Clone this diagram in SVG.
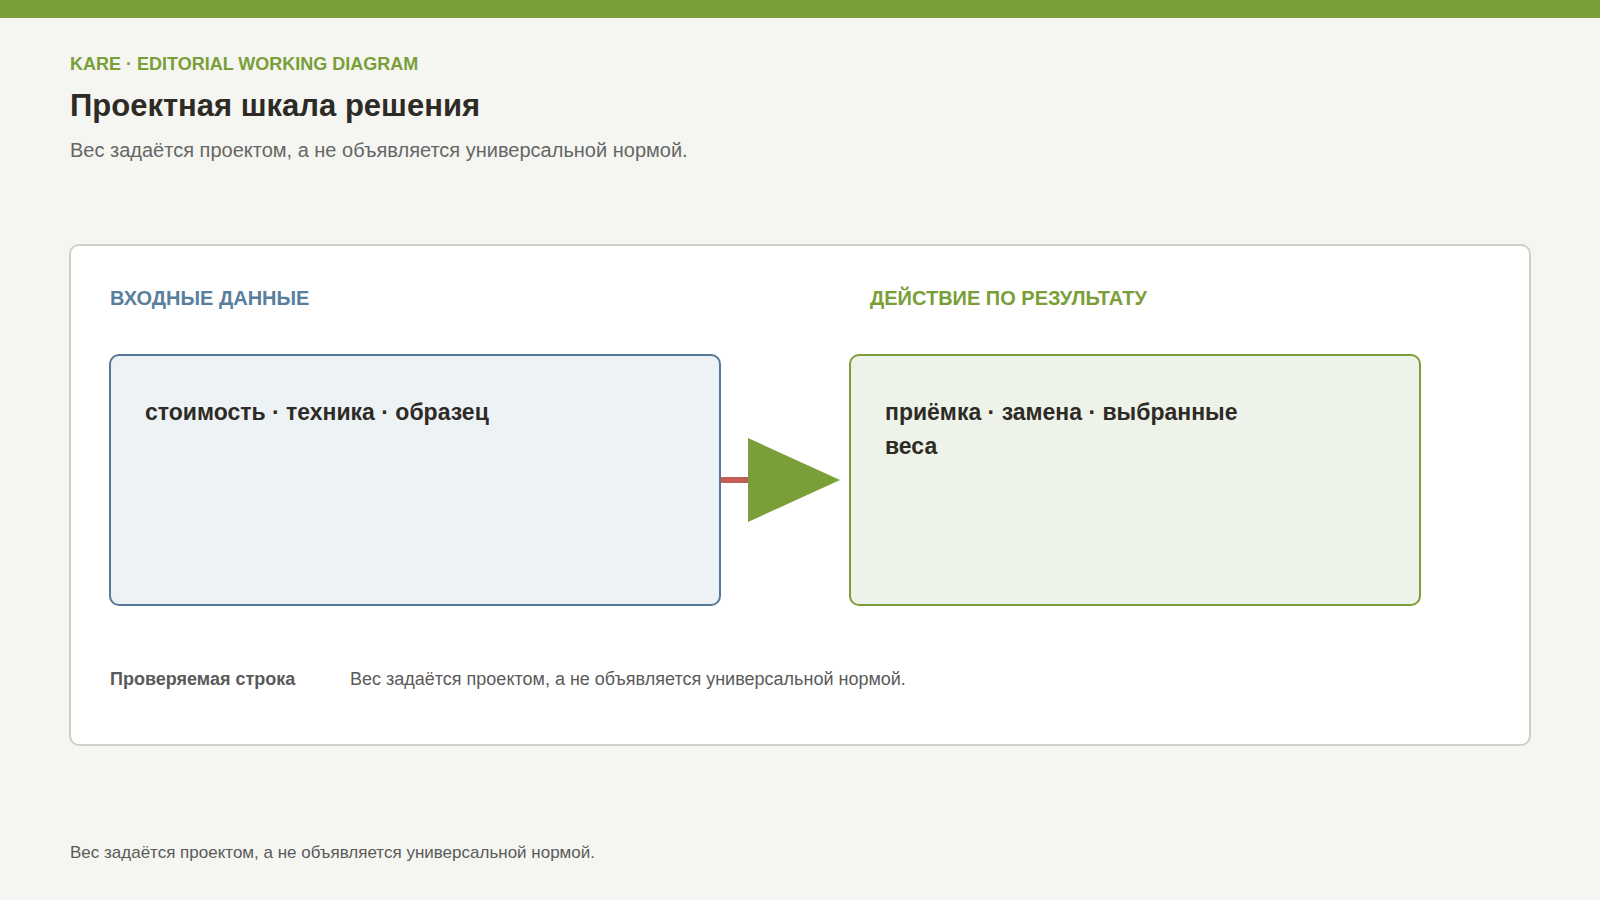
<svg xmlns="http://www.w3.org/2000/svg" width="1600" height="900" viewBox="0 0 1600 900">
<defs>
<style>
text { font-family: "Liberation Sans", Arial, sans-serif; }
.kicker { font-size: 18px; font-weight: bold; fill: #7a9e38; }
.title { font-size: 31px; font-weight: bold; fill: #2e2a26; }
.sub { font-size: 20px; fill: #666666; }
.head-in { font-size: 20px; font-weight: bold; fill: #5a7f9c; }
.head-out { font-size: 20px; font-weight: bold; fill: #7a9e38; }
.nodetext { font-size: 23px; font-weight: bold; fill: #2e2a26; }
.rowlabel { font-size: 18px; font-weight: bold; fill: #5a5a5a; }
.rowtext { font-size: 18px; fill: #5a5a5a; }
.foot { font-size: 17px; fill: #5a5a5a; }
</style>
<marker id="arrow" viewBox="0 0 92 84" refX="0" refY="42" markerWidth="92" markerHeight="84" markerUnits="userSpaceOnUse" orient="auto">
<polygon points="0,0 92,42 0,84" fill="#7a9e38"/>
</marker>
</defs>
<rect x="0" y="0" width="1600" height="900" fill="#f5f6f1"/>
<rect x="0" y="0" width="1600" height="18" fill="#7a9e38"/>
<g id="header">
<text class="kicker" x="70" y="70">KARE · EDITORIAL WORKING DIAGRAM</text>
<text class="title" x="70" y="116">Проектная шкала решения</text>
<text class="sub" x="70" y="157">Вес задаётся проектом, а не объявляется универсальной нормой.</text>
</g>
<g id="panel">
<rect x="70" y="245" width="1460" height="500" rx="9" fill="#ffffff" stroke="#cdd1c6" stroke-width="2"/>
<text class="head-in" x="110" y="305">ВХОДНЫЕ ДАННЫЕ</text>
<text class="head-out" x="870" y="305">ДЕЙСТВИЕ ПО РЕЗУЛЬТАТУ</text>
</g>
<g id="node-input">
<rect x="110" y="355" width="610" height="250" rx="9" fill="#edf2f5" stroke="#56799a" stroke-width="2"/>
<text class="nodetext" x="145" y="420">стоимость · техника · образец</text>
</g>
<g id="node-action">
<rect x="850" y="355" width="570" height="250" rx="9" fill="#edf3e8" stroke="#7a9e38" stroke-width="2"/>
<text class="nodetext" x="885" y="420">приёмка · замена · выбранные</text>
<text class="nodetext" x="885" y="454">веса</text>
</g>
<g id="connectors">
<line x1="721" y1="480" x2="748" y2="480" stroke="#bf5f4f" stroke-width="6" marker-end="url(#arrow)"/>
</g>
<g id="footer">
<text class="rowlabel" x="110" y="685">Проверяемая строка</text>
<text class="rowtext" x="350" y="685">Вес задаётся проектом, а не объявляется универсальной нормой.</text>
<text class="foot" x="70" y="858">Вес задаётся проектом, а не объявляется универсальной нормой.</text>
</g>
</svg>
